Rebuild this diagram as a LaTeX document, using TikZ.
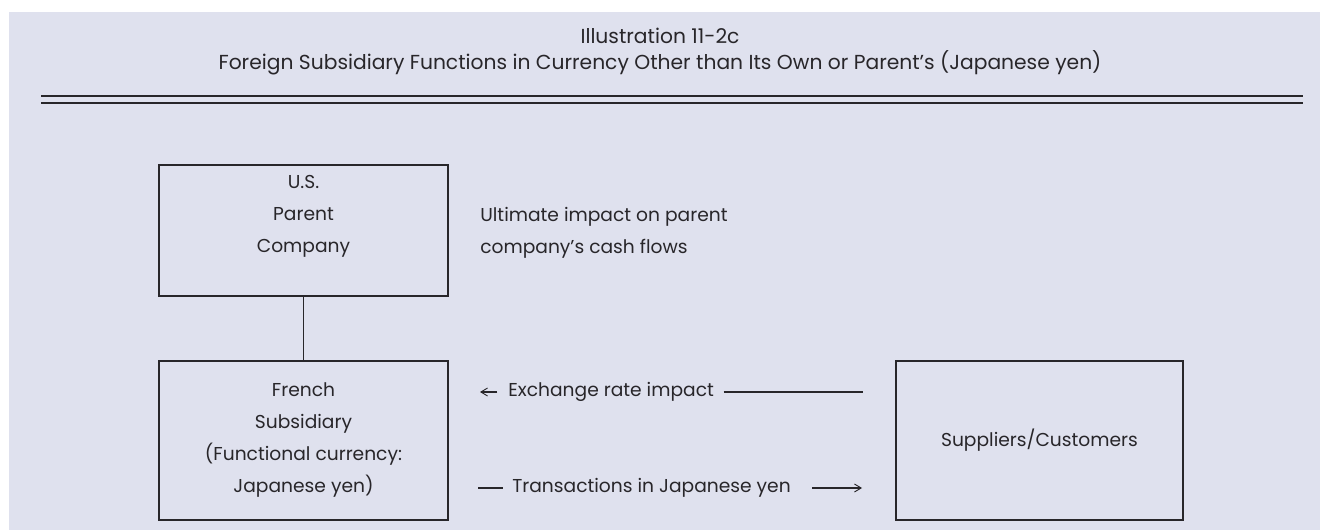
\documentclass[tikz,border=0pt]{standalone}
\usepackage{fontspec}
\setmainfont{Poppins}
\usetikzlibrary{arrows.meta}
\definecolor{panel}{RGB}{223,225,238}
\definecolor{ink}{RGB}{40,38,42}
\begin{document}
\begin{tikzpicture}[x=0.75pt,y=-0.75pt,
  every node/.style={text=ink, font=\fontsize{14}{24}\selectfont, inner sep=0pt},
  head/.style={font=\fontsize{15.2}{20}\selectfont},
  box/.style={draw=ink, line width=1pt},
  rule/.style={draw=ink, line width=1.6pt},
  wire/.style={draw=ink, line width=0.8pt},
  tip/.style={-{Straight Barb[length=5pt,width=6pt,line width=0.7pt]}}]
% page and panel
\useasboundingbox (0,0) rectangle (1320,530);
\fill[white] (0,0) rectangle (1320,530);
\fill[panel] (9,12) rectangle (1320,530);
% heading
\node[head] (t1) at (660,36) {Illustration 11-2c};
\node[head] (t2) at (660,63) {Foreign Subsidiary Functions in Currency Other than Its Own or Parent’s (Japanese yen)};
\draw[rule] (41,96) -- (1303,96);
\draw[rule] (41,103) -- (1303,103);
% boxes
\draw[box] (159,165) rectangle (448,296);
\node[align=center] (par) at (303.5,216) {U.S.\\Parent\\Company};
\coordinate (parB) at (303.5,296);
\draw[box] (159,361) rectangle (448,520);
\node[align=center] (sub) at (303.5,440) {French\\Subsidiary\\(Functional currency:\\Japanese yen)};
\coordinate (subT) at (303.5,361);
\draw[box] (896,361) rectangle (1183,520);
\node (sc) at (1039.5,440) {Suppliers/Customers};
\draw[wire] (parB) -- (subT);
% note beside the parent
\node[align=left, anchor=west] (note) at (480,233) {Ultimate impact on parent\\company’s cash flows};
% exchange-rate line (pointing left)
\node[anchor=west] (ex) at (508,392) {Exchange rate impact};
\coordinate (exA) at (480,392);
\coordinate (exB) at (863,392);
\draw[wire, tip] ([xshift=-8pt]ex.west) -- (exA);
\draw[wire] ([xshift=7pt]ex.east) -- (exB);
% transactions line (pointing right)
\node[anchor=west] (tr) at (512,488) {Transactions in Japanese yen};
\coordinate (trA) at (478,488);
\coordinate (trB) at (862,488);
\draw[wire] (trA) -- ([xshift=-7pt]tr.west);
\draw[wire, tip] ([xshift=16pt]tr.east) -- (trB);
\end{tikzpicture}
\end{document}
